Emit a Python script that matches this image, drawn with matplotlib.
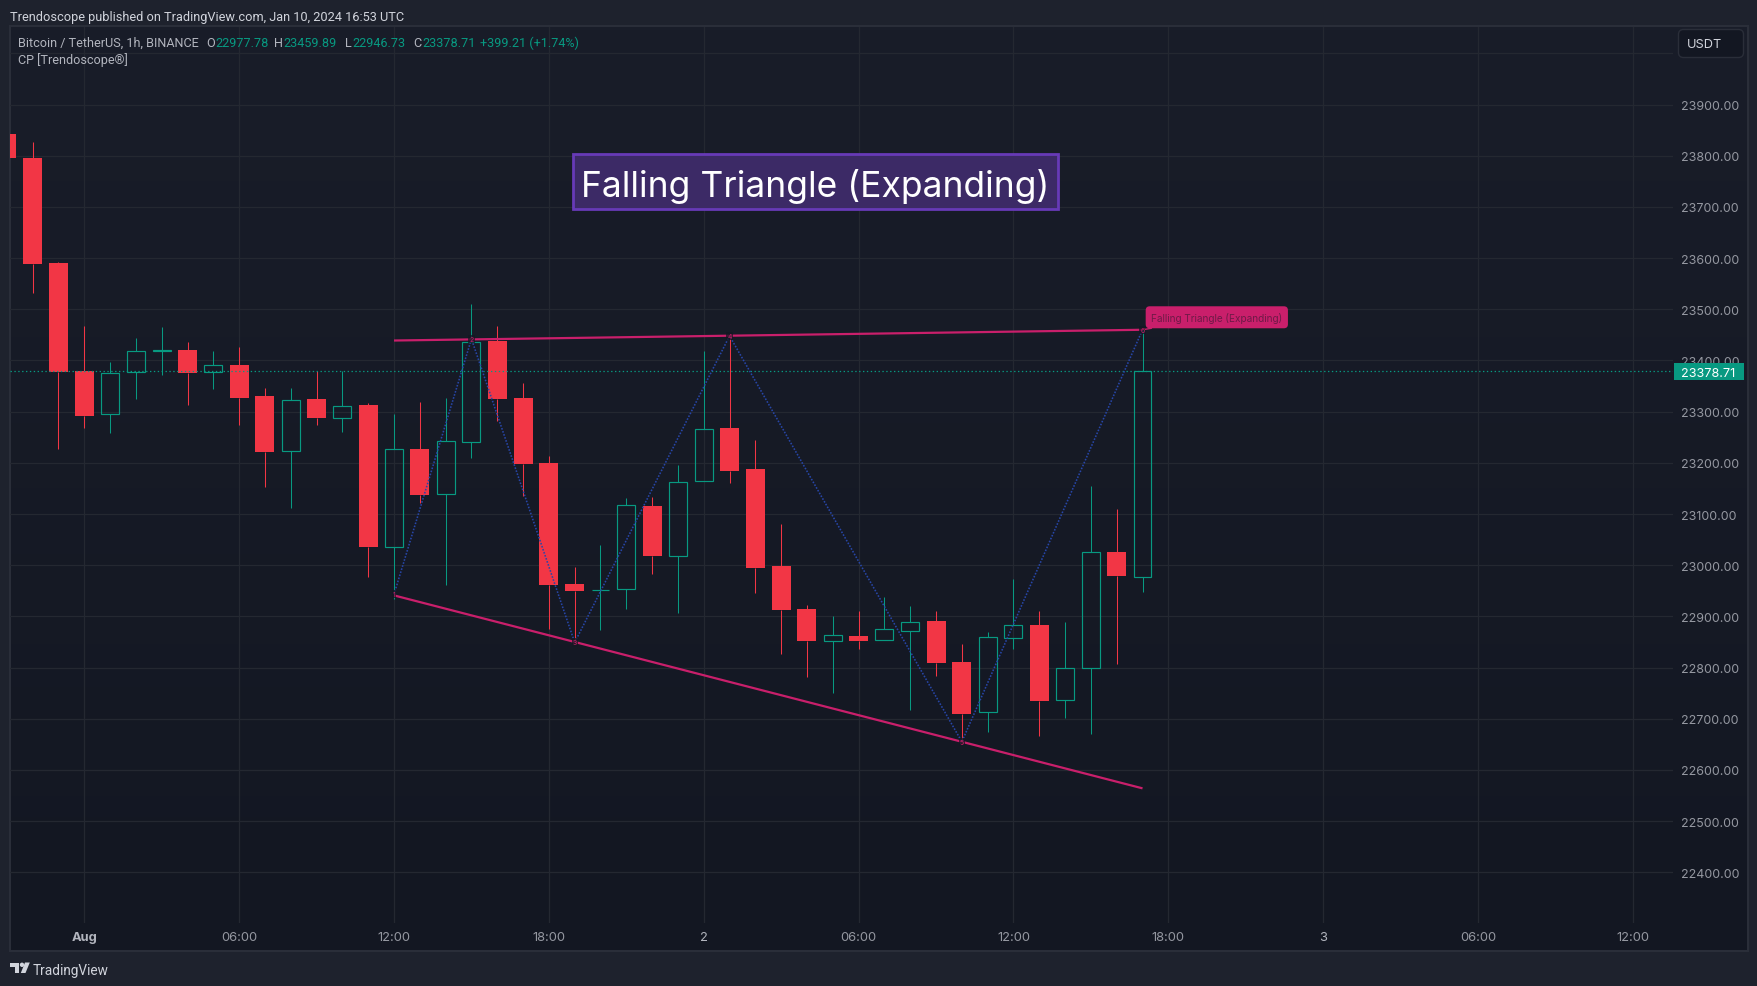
import numpy as np
import matplotlib
matplotlib.use("Agg")
import matplotlib.pyplot as plt
from matplotlib.patches import Rectangle, Polygon, Circle
from matplotlib.transforms import blended_transform_factory

plt.rcParams['font.family'] = ['Inter', 'DejaVu Sans']
SMALL = ['Roboto', 'DejaVu Sans']

W, H = 1758, 987

# hours from 00:00 on 1 Aug
hours = list(range(-3, 42))
opens = [23843, 23796, 23591, 23379, 23296, 23377, 23418, 23420, 23377, 23392, 23331, 23224, 23324, 23287, 23313,
         23036, 23228, 23140, 23241, 23438, 23326, 23199, 22964, 22951, 22953, 23115, 23018, 23165, 23268, 23187,
         22999, 22915, 22851, 22862, 22853, 22872, 22891, 22811, 22713, 22858, 22883, 22737, 22800, 23026, 22977.78]
highs = [23880, 23827, 23593, 23468, 23397, 23444, 23465, 23437, 23418, 23427, 23346, 23346, 23379, 23379, 23317,
         23295, 23319, 23326, 23510, 23467, 23356, 23213, 22997, 23040, 23131, 23133, 23195, 23418, 23450, 23244,
         23081, 22922, 22901, 22911, 22938, 22920, 22911, 22846, 22870, 22973, 22911, 22889, 23154, 23110, 23459.89]
lows = [23790, 23532, 23228, 23269, 23259, 23324, 23372, 23313, 23344, 23274, 23152, 23112, 23274, 23261, 22977,
        22933, 23121, 22962, 23209, 23282, 23136, 22876, 22848, 22873, 22915, 22982, 22907, 23165, 23161, 22945,
        22827, 22781, 22750, 22836, 22853, 22717, 22783, 22650, 22674, 22836, 22666, 22701, 22670, 22806, 22946.73]
closes = [23795, 23589, 23377, 23291, 23375, 23418, 23420, 23375, 23392, 23327, 23222, 23322, 23287, 23311, 23036,
          23228, 23138, 23243, 23437, 23325, 23198, 22962, 22950, 22952, 23118, 23017, 23163, 23267, 23185, 22995,
          22913, 22852, 22863, 22852, 22875, 22889, 22809, 22709, 22859, 22883, 22734, 22800, 23026, 22979, 23378.71]

upper_h = [12, 41]
upper_v = [23439, 23460]
lower_h = [12, 41]
lower_v = [22941, 22564]
pivot_h = [12, 15, 19, 25, 34, 41]
pivot_v = [22943, 23442, 22849, 23448, 22655, 23460]
pivot_labels = ['1', '2', '3', '4', '5', '6']

xticks = list(range(0, 61, 6))
xlabels = ['Aug', '06:00', '12:00', '18:00', '2', '06:00', '12:00', '18:00', '3', '06:00', '12:00']
yticks = list(range(22400, 24001, 100))
pattern_name = 'Falling Triangle (Expanding)'
last_price = 23378.71

UP = '#089981'
DOWN = '#f23645'
TXT = '#b2b5be'
AX = '#9598a1'
GRID = '#242831'
PINK = '#c91f6b'
BLUE = '#2746a8'


def fx(x):
    return x / W


def fy(y):
    return 1 - y / H


fig = plt.figure(figsize=(W / 100, H / 100), dpi=100, facecolor='#1e222d')

# chart pane background (vertical gradient) and frame
bg = fig.add_axes([fx(10), fy(952), (1748 - 10) / W, (952 - 27) / H], zorder=-1)
bg.imshow(np.linspace(0, 1, 256).reshape(-1, 1), aspect='auto',
          cmap=matplotlib.colors.LinearSegmentedColormap.from_list('p', ['#191d29', '#131722']))
bg.set_xticks([])
bg.set_yticks([])
for s in bg.spines.values():
    s.set_color('#2a2e39')
    s.set_linewidth(1.5)

L, R, T, B = 10, 1673, 28, 924
ax = fig.add_axes([fx(L), fy(B), (R - L) / W, (B - T) / H])
ax.patch.set_alpha(0)
px_h = 25.81
px_v = 0.5118
y500 = 310.3
ax.set_xlim((L - 84.3) / px_h, (R - 84.3) / px_h)
ax.set_ylim(23500 - (B - y500) / px_v, 23500 + (y500 - T) / px_v)
for s in ax.spines.values():
    s.set_visible(False)

ax.set_xticks(xticks)
ax.set_xticklabels(xlabels)
ax.set_yticks(yticks)
ax.set_yticklabels([f'{v:.2f}' if v < 24000 else '' for v in yticks], va='center_baseline')
ax.yaxis.tick_right()
ax.tick_params(axis='y', length=0, pad=6, labelsize=8.95, labelcolor=AX)
ax.tick_params(axis='x', length=0, pad=6, labelsize=9.3, labelcolor=AX)
ax.get_xticklabels()[0].set_fontweight('bold')
ax.get_xticklabels()[0].set_color(TXT)
ax.get_xticklabels()[4].set_color(TXT)
ax.get_xticklabels()[8].set_color(TXT)
ax.grid(True, color=GRID, linewidth=0.9)
ax.set_axisbelow(True)

# candles
bw = 0.735
for h, o, hi, lo, c in zip(hours, opens, highs, lows, closes):
    up = c >= o
    col = UP if up else DOWN
    top, bot = max(o, c), min(o, c)
    ax.vlines(h, top, hi, color=col, linewidth=0.75, zorder=3)
    ax.vlines(h, lo, bot, color=col, linewidth=0.75, zorder=3)
    if up:
        ax.add_patch(Rectangle((h - bw / 2 + 0.02, bot), bw - 0.04, top - bot, facecolor='none',
                               edgecolor=col, linewidth=0.85, zorder=3))
    else:
        ax.add_patch(Rectangle((h - bw / 2, bot), bw, top - bot, facecolor=col, edgecolor='none', zorder=3))

# last price line
ax.axhline(last_price, color=UP, linewidth=0.9, linestyle=(0, (1.1, 2.0)), zorder=3.5)

# pattern
ax.plot(pivot_h, pivot_v, color=BLUE, linewidth=1.15, linestyle=(0, (1, 1.0)), zorder=4)
ax.plot(upper_h, upper_v, color=PINK, linewidth=1.6, zorder=4.2, solid_capstyle='butt')
ax.plot(lower_h, lower_v, color=PINK, linewidth=1.6, zorder=4.2, solid_capstyle='butt')
for h, v, t in zip(pivot_h, pivot_v, pivot_labels):
    ax.text(h, v, t, color=PINK, fontsize=5, ha='center', va='center', zorder=4.5,
            bbox=dict(boxstyle='square,pad=0.15', facecolor='#131722', edgecolor='none', alpha=0.75))

ax.annotate(pattern_name, xy=(pivot_h[-1], pivot_v[-1]), xytext=(53.5, 9), textcoords='offset points',
            ha='center', va='center', fontsize=7.2, color='#6e1a47', zorder=6,
            arrowprops=dict(arrowstyle='-', color=PINK, linewidth=1, shrinkA=0, shrinkB=2),
            bbox=dict(boxstyle='round,pad=0.55,rounding_size=0.4', facecolor=PINK, edgecolor='none'))

# last price tag
trans = blended_transform_factory(ax.transAxes, ax.transData)
ax.add_patch(Rectangle((1.0005, last_price - 16.6), (1744 - 1674) / (R - L), 33.2, transform=trans,
                       facecolor=UP, edgecolor='none', clip_on=False, zorder=10))
ax.text(1 + 35 / (R - L), last_price, f'{last_price:.2f}', transform=trans, color='white', fontsize=9.1,
        ha='center', va='center_baseline', zorder=11, clip_on=False)


# figure-level texts
def ftext(x, y, s, **kw):
    kw.setdefault('color', TXT)
    kw.setdefault('fontsize', 9.1)
    kw.setdefault('va', 'center_baseline')
    kw.setdefault('zorder', 20)
    kw.setdefault('family', SMALL)
    return fig.text(fx(x), fy(y), s, **kw)


ftext(10, 15.5, 'Trendoscope published on TradingView.com, Jan 10, 2024 16:53 UTC', color='#d1d4dc', fontsize=9.2)
ftext(18, 42, 'Bitcoin / TetherUS, 1h, BINANCE')
ftext(18, 59, 'CP [Trendoscope®]')
for x, s, c in [(206, 'O', TXT), (215.4, '22977.78', UP), (274, 'H', TXT), (283, '23459.89', UP), (345, 'L', TXT),
                (352, '22946.73', UP), (413, 'C', TXT), (422, '23378.71', UP), (480, '+399.21 (+1.74%)', UP)]:
    ftext(x, 42, s, color=c)

# USDT selector
fig.patches.append(matplotlib.patches.FancyBboxPatch(
    (1681, H - 56), 60, 23, boxstyle='round,pad=2.5,rounding_size=5', transform=None,
    facecolor='#131722', edgecolor='#2a2e39', linewidth=1, zorder=15, figure=fig))
ftext(1687, 43.5, 'USDT', color='#d1d4dc', fontsize=9.2, family=['Inter', 'DejaVu Sans'])

# title box
fig.patches.append(Rectangle((fx(573.5), fy(210)), (1058 - 573.5) / W, (210 - 154.5) / H, transform=fig.transFigure,
                             facecolor='#3c2a66', edgecolor='#673ab7', linewidth=2, zorder=15, figure=fig))
ftext(815.5, 183, pattern_name, color='white', fontsize=25.5, ha='center', family=['Inter', 'DejaVu Sans'])

# TradingView mark and name
logo_col = '#d1d4dc'
def lp(pts):
    return [(fx(x), fy(y)) for x, y in pts]
fig.patches.append(Polygon(lp([(10, 963.5), (19, 963.5), (19, 974), (14.5, 974), (14.5, 968), (10, 968)]),
                           transform=fig.transFigure, facecolor=logo_col, edgecolor='none', zorder=15, figure=fig))
fig.patches.append(Circle((22, H - 965.8), 2.2, transform=None, facecolor=logo_col, edgecolor='none', zorder=15, figure=fig))
fig.patches.append(Polygon(lp([(25, 963.5), (29.8, 963.5), (25.5, 974), (20.8, 974)]),
                           transform=fig.transFigure, facecolor=logo_col, edgecolor='none', zorder=15, figure=fig))
ftext(33, 969.5, 'TradingView', color='#d1d4dc', fontsize=9.8)

fig.savefig('out.png', dpi=100, facecolor=fig.get_facecolor())
